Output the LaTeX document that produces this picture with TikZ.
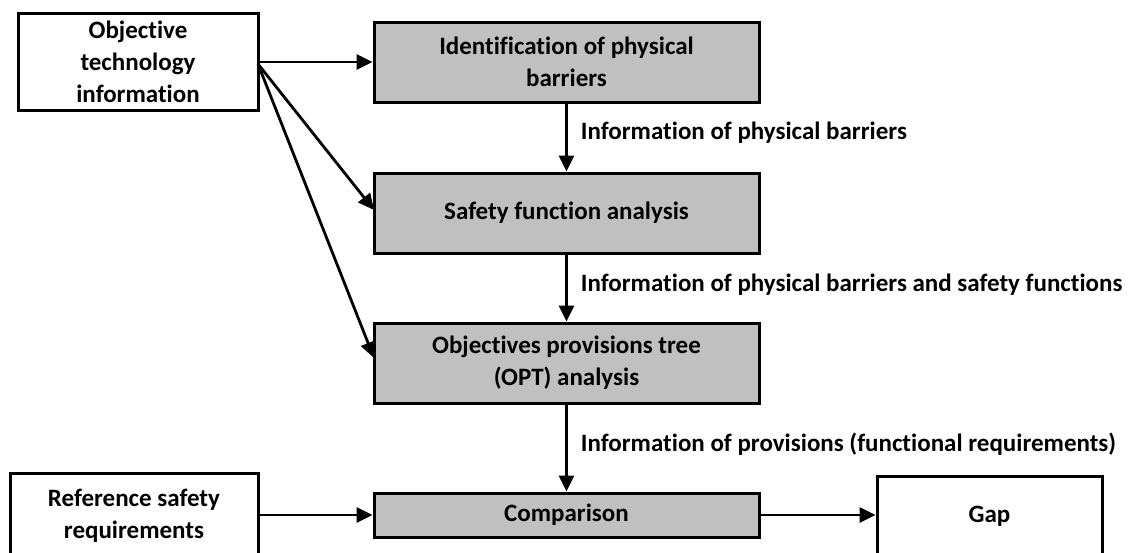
\documentclass[tikz,border=0pt]{standalone}
\usepackage{fontspec}
\setmainfont{Carlito}[Ligatures={NoCommon}]
\usetikzlibrary{arrows.meta}
\definecolor{boxgray}{HTML}{C0C0C0}
\tikzset{
  every node/.style={font=\bfseries\fontsize{25}{32}\selectfont},
  plainbox/.style={draw=black, line width=3pt, fill=white, align=center, inner sep=0pt},
  graybox/.style={draw=black, line width=3pt, fill=boxgray, align=center, inner sep=0pt,
                  minimum width=385pt, minimum height=80pt},
  arr/.style={line width=2.8pt, -{Triangle[length=16pt, width=15pt]}},
  flowlabel/.style={anchor=base west, inner sep=0pt, xshift=13pt}
}
\begin{document}
\begin{tikzpicture}[x=1pt, y=-1pt]
  \useasboundingbox (0,0) rectangle (1128,552);
  \clip (0,0) rectangle (1128,552);

  % input boxes
  \node[plainbox, minimum width=240pt, minimum height=97pt] (oti) at (138,61.5)
    {Objective\\technology\\information};
  \node[plainbox, minimum width=248pt, minimum height=86pt] (ref) at (134,516)
    {Reference safety\\requirements};

  % process chain
  \node[graybox] (idb) at (566.5,62) {Identification of physical\\barriers};
  \node[graybox] (sfa) at (566.5,213) {Safety function analysis};
  \node[graybox] (opt) at (566.5,363) {Objectives provisions tree\\(OPT) analysis};
  \node[graybox, minimum height=44pt] (cmp) at (566.5,515) {Comparison};

  % result
  \node[plainbox, minimum width=225pt, minimum height=80pt] (gap) at (989.5,516) {Gap};

  % connectors from the technology information
  \coordinate (src) at (258,64);
  \coordinate (sfin) at (374,210);
  \coordinate (optin) at (374,358);
  \draw[arr] (oti.east |- idb.west) -- (idb.west);
  \draw[arr] (src) -- (sfin);
  \draw[arr] (src) -- (optin);

  % main flow with information labels
  \draw[arr] (idb.south) -- node[flowlabel, pos=0.535] {Information of physical barriers} (sfa.north);
  \draw[arr] (sfa.south) -- node[flowlabel, pos=0.557] {Information of physical barriers and safety functions} (opt.north);
  \draw[arr] (opt.south) -- node[flowlabel, pos=0.544] {Information of provisions (functional requirements)} (cmp.north);

  \draw[arr] (ref.east |- cmp.west) -- (cmp.west);
  \draw[arr] (cmp.east) -- (gap.west |- cmp.east);
\end{tikzpicture}
\end{document}
